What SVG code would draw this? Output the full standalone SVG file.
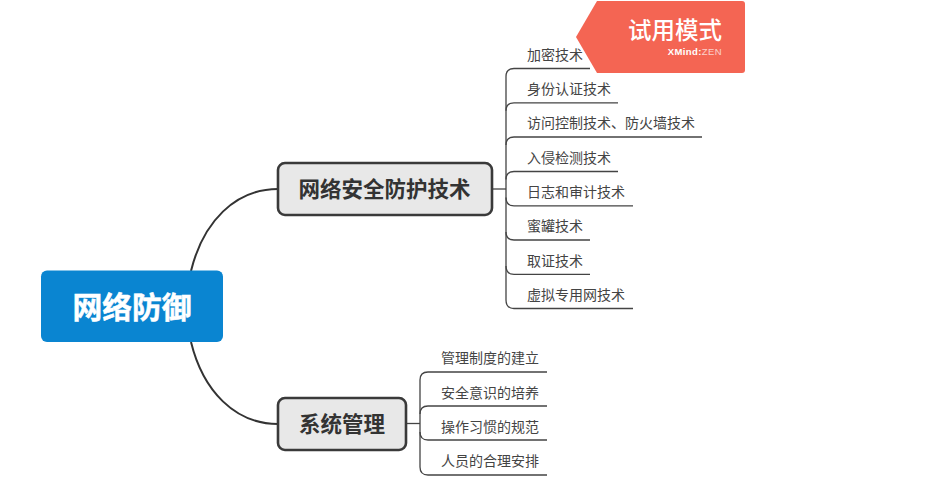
<svg xmlns="http://www.w3.org/2000/svg" width="950" height="489" viewBox="0 0 950 489">
<style>
text{font-family:"Noto Sans CJK SC","Liberation Sans",sans-serif}
.c{fill:none;stroke:#333;stroke-width:2}
.l{fill:none;stroke:#444;stroke-width:1.3}
.t{fill:#444;font-size:14px}
.m{fill:#e8e8e8;stroke:#3a3a3a;stroke-width:2.600}
.mt{fill:#333;font-size:21.500px;font-weight:700;text-anchor:middle}
</style>
<rect width="950" height="489" fill="#fff"/>
<g id="connectors">
<path class="c" d="M191 271C203 222 235 189 278 189"/>
<path class="c" d="M191 342C203 391 235 424 278 424"/>
<path class="l" d="M492 189H506"/>
<path class="l" d="M590 68.500H514Q506 68.500 506 76.500V300Q506 308.500 514 308.500H633"/>
<path class="l" d="M618 102.800H514Q506 102.800 506 110.800"/>
<path class="l" d="M702 137H514Q506 137 506 145"/>
<path class="l" d="M618 171.500H514Q506 171.500 506 179.500"/>
<path class="l" d="M506 197.500Q506 205.800 514 205.800H633"/>
<path class="l" d="M506 232Q506 240 514 240H590"/>
<path class="l" d="M506 266Q506 274.300 514 274.300H590"/>
<path class="l" d="M406 423.500H420"/>
<path class="l" d="M547 372H428Q420 372 420 380V467Q420 475 428 475H547"/>
<path class="l" d="M547 406H428Q420 406 420 414"/>
<path class="l" d="M420 432Q420 440 428 440H547"/>
</g>
<g id="root"><rect x="41" y="270.500" width="182" height="71.500" rx="6" fill="#0a85d1"/><text x="132" y="318" fill="#fff" stroke="#fff" stroke-width=".5" font-size="29.800" font-weight="700" text-anchor="middle">网络防御</text></g>
<g id="topic1"><rect class="m" x="278" y="163" width="214" height="52" rx="7"/><text class="mt" x="384.500" y="197">网络安全防护技术</text></g>
<g id="topic2"><rect class="m" x="278" y="398" width="128" height="52" rx="7"/><text class="mt" x="342" y="432">系统管理</text></g>
<g id="leaf1"><text class="t" x="527" y="60">加密技术</text></g>
<g id="leaf2"><text class="t" x="527" y="94">身份认证技术</text></g>
<g id="leaf3"><text class="t" x="527" y="128">访问控制技术、防火墙技术</text></g>
<g id="leaf4"><text class="t" x="527" y="163">入侵检测技术</text></g>
<g id="leaf5"><text class="t" x="527" y="197">日志和审计技术</text></g>
<g id="leaf6"><text class="t" x="527" y="231">蜜罐技术</text></g>
<g id="leaf7"><text class="t" x="527" y="266">取证技术</text></g>
<g id="leaf8"><text class="t" x="527" y="300">虚拟专用网技术</text></g>
<g id="leaf9"><text class="t" x="441" y="363">管理制度的建立</text></g>
<g id="leaf10"><text class="t" x="441" y="398">安全意识的培养</text></g>
<g id="leaf11"><text class="t" x="441" y="432">操作习惯的规范</text></g>
<g id="leaf12"><text class="t" x="441" y="466">人员的合理安排</text></g>
<g id="badge"><path d="M597 1H742Q745 1 745 4V70Q745 73 742 73H597L576 37Z" fill="#f46553"/><text x="675" y="39" fill="#fff" font-size="23.500" font-weight="500" text-anchor="middle">试用模式</text><text x="722" y="55" fill="#fff" font-size="9.500" letter-spacing=".4" text-anchor="end" style="font-family:'Liberation Sans',sans-serif"><tspan font-weight="700">XMind:</tspan><tspan opacity=".7">ZEN</tspan></text></g>
</svg>
